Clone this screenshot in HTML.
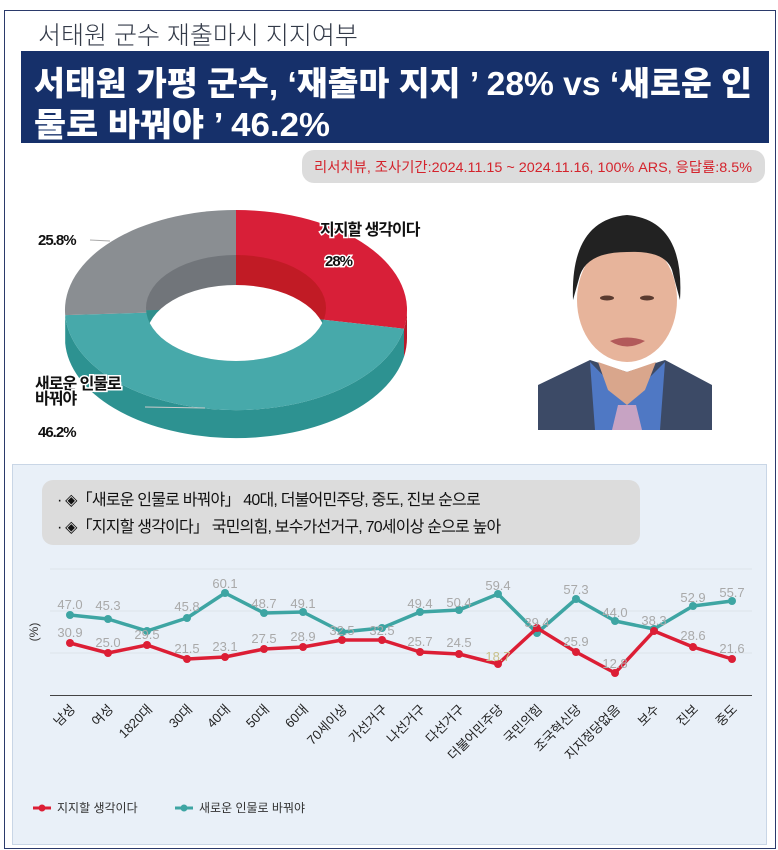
<!DOCTYPE html>
<html><head><meta charset="utf-8"><style>
body{margin:0;width:778px;height:850px;background:#fff;overflow:hidden}
svg{display:block}
text{font-family:"Liberation Sans","Noto Sans CJK KR",sans-serif}
</style></head><body>
<svg width="778" height="850" viewBox="0 0 778 850">
<defs>
<clipPath id="hole"><ellipse cx="236" cy="308" rx="90" ry="53"/></clipPath>
</defs>
<rect x="4.5" y="10.5" width="771" height="838" fill="#fff" stroke="#2b3a6b" stroke-width="1"/>
<text x="38" y="44" font-size="25" fill="#333a48" font-family="'Noto Sans CJK KR',sans-serif" font-weight="300">서태원 군수 재출마시 지지여부</text>
<rect x="21" y="51" width="748" height="92" fill="#16306a"/>
<g font-size="33" font-weight="900" fill="#fff" font-family="'Noto Sans CJK KR',sans-serif">
<text x="34" y="95" textLength="718" lengthAdjust="spacingAndGlyphs">서태원 가평 군수, ‘재출마 지지 ’ 28% vs ‘새로운 인</text>
<text x="34" y="136" textLength="296" lengthAdjust="spacingAndGlyphs">물로 바꿔야 ’ 46.2%</text>
</g>
<rect x="302" y="150" width="463" height="33" rx="12" fill="#dcdcdc"/>
<text x="314" y="172" font-size="14" fill="#d4232c" textLength="438" lengthAdjust="spacingAndGlyphs">리서치뷰, 조사기간:2024.11.15 ~ 2024.11.16, 100% ARS, 응답률:8.5%</text>

<!-- donut -->
<path d="M404,328.7 A171,100 0 0 1 65.2,315.1 L65.2,343.1 A171,100 0 0 0 404,356.7 Z" fill="#2d9291"/>
<path d="M407,310 A171,100 0 0 1 404,328.7 L404,356.7 A171,100 0 0 0 407,338 Z" fill="#b81a2a"/>
<path d="M236,310 L236,210 A171,100 0 0 1 404,328.7 Z" fill="#d81f38"/>
<path d="M236,310 L404,328.7 A171,100 0 0 1 65.2,315.1 Z" fill="#47a9aa"/>
<path d="M236,310 L65.2,315.1 A171,100 0 0 1 236,210 Z" fill="#8a8e92"/>
<g clip-path="url(#hole)">
<path d="M236,308 L236,200 L400,200 L400,330 Z" fill="#c11b25"/>
<path d="M236,308 L236,200 L80,200 L80,312 Z" fill="#71757a"/>
<path d="M236,308 L400,330 L400,420 L80,420 L80,312 Z" fill="#2f8f8c"/>
<ellipse cx="236" cy="338" rx="90" ry="53" fill="#fff"/>
</g>
<line x1="90" y1="240" x2="110" y2="241" stroke="#aaa"/>
<line x1="145" y1="407" x2="205" y2="408" stroke="#ccc"/>
<g font-size="15" font-weight="bold" fill="#111" stroke="#fff" stroke-width="3" paint-order="stroke" letter-spacing="-1" font-family="'Noto Sans CJK KR',sans-serif">
<text x="38" y="245">25.8%</text>
<text x="320" y="235" font-size="16">지지할 생각이다</text>
<text x="325" y="266">28%</text>
<text x="35" y="389" font-size="16">새로운 인물로</text>
<text x="35" y="404" font-size="16">바꿔야</text>
<text x="38" y="437">46.2%</text>
</g>

<!-- photo -->
<rect x="538" y="207" width="175" height="223" fill="#fff"/>
<path d="M538,385 L590,360 L627,372 L665,360 L712,385 L712,430 L538,430 Z" fill="#3c4a66"/>
<path d="M590,362 L627,400 L665,362 L660,430 L595,430 Z" fill="#4f78c4"/>
<path d="M618,405 L636,405 L642,430 L612,430 Z" fill="#c7a3c3"/>
<path d="M598,362 L627,372 L656,362 L645,390 L627,405 L608,390 Z" fill="#d9a68c"/>
<ellipse cx="627" cy="300" rx="50" ry="62" fill="#e7b49b"/>
<path d="M573,300 Q570,220 627,215 Q685,220 680,300 L672,270 Q665,250 627,252 Q588,252 580,275 Z" fill="#222"/>
<ellipse cx="607" cy="298" rx="7" ry="2.5" fill="#5a3b30"/>
<ellipse cx="647" cy="298" rx="7" ry="2.5" fill="#5a3b30"/>
<path d="M610,341 Q627,334 645,341 Q627,352 610,341 Z" fill="#b25a5a"/>

<!-- chart box -->
<rect x="12.5" y="464.5" width="754" height="380" fill="#e9f0f8" stroke="#c9d6e6"/>
<rect x="42" y="480" width="598" height="65" rx="11" fill="#dcdcdc"/>
<g font-size="16" fill="#111" letter-spacing="-0.8">
<text x="57" y="505">· ◈「새로운 인물로 바꿔야」 40대, 더불어민주당, 중도, 진보 순으로</text>
<text x="57" y="532">· ◈「지지할 생각이다」 국민의힘, 보수가선거구, 70세이상 순으로 높아</text>
</g>
<g stroke="#dde3ea" stroke-width="1">
<line x1="50" y1="569" x2="752" y2="569"/><line x1="50" y1="611" x2="752" y2="611"/><line x1="50" y1="653" x2="752" y2="653"/>
</g>
<line x1="50" y1="695.5" x2="752" y2="695.5" stroke="#444" stroke-width="1"/>
<text transform="translate(38,632) rotate(-90)" font-size="12" fill="#333" text-anchor="middle">(%)</text>

<polyline fill="none" stroke="#3ea5a3" stroke-width="3.5" stroke-linejoin="round" points="70,615 108,619 147,631 187,618 225,593 264,613 303,612 342,632 382,628 420,612 459,610 498,594 537,633 576,599 615,621 654,629 693,606 732,601"/>
<g fill="#3ea5a3"><circle cx="70" cy="615" r="4"/><circle cx="108" cy="619" r="4"/><circle cx="147" cy="631" r="4"/><circle cx="187" cy="618" r="4"/><circle cx="225" cy="593" r="4"/><circle cx="264" cy="613" r="4"/><circle cx="303" cy="612" r="4"/><circle cx="342" cy="632" r="4"/><circle cx="382" cy="628" r="4"/><circle cx="420" cy="612" r="4"/><circle cx="459" cy="610" r="4"/><circle cx="498" cy="594" r="4"/><circle cx="537" cy="633" r="4"/><circle cx="576" cy="599" r="4"/><circle cx="615" cy="621" r="4"/><circle cx="654" cy="629" r="4"/><circle cx="693" cy="606" r="4"/><circle cx="732" cy="601" r="4"/></g>
<polyline fill="none" stroke="#dc1e35" stroke-width="3.5" stroke-linejoin="round" points="70,643 108,653 147,645 187,659 225,657 264,649 303,647 342,640 382,640 420,652 459,654 498,664 537,628 576,652 615,673 654,631 693,647 732,659"/>
<g fill="#dc1e35"><circle cx="70" cy="643" r="4"/><circle cx="108" cy="653" r="4"/><circle cx="147" cy="645" r="4"/><circle cx="187" cy="659" r="4"/><circle cx="225" cy="657" r="4"/><circle cx="264" cy="649" r="4"/><circle cx="303" cy="647" r="4"/><circle cx="342" cy="640" r="4"/><circle cx="382" cy="640" r="4"/><circle cx="420" cy="652" r="4"/><circle cx="459" cy="654" r="4"/><circle cx="498" cy="664" r="4"/><circle cx="537" cy="628" r="4"/><circle cx="576" cy="652" r="4"/><circle cx="615" cy="673" r="4"/><circle cx="654" cy="631" r="4"/><circle cx="693" cy="647" r="4"/><circle cx="732" cy="659" r="4"/></g>

<g font-size="13" fill="#a9a9a9" text-anchor="middle">
<text x="70" y="609">47.0</text><text x="108" y="610">45.3</text><text x="187" y="611">45.8</text><text x="225" y="588">60.1</text><text x="264" y="608">48.7</text><text x="303" y="608">49.1</text><text x="342" y="635">32.5</text><text x="382" y="635">32.5</text><text x="420" y="608">49.4</text><text x="459" y="607">50.4</text><text x="498" y="590">59.4</text><text x="537" y="627">39.4</text><text x="576" y="594">57.3</text><text x="615" y="617">44.0</text><text x="654" y="625">38.3</text><text x="693" y="602">52.9</text><text x="732" y="597">55.7</text>
<text x="70" y="637">30.9</text><text x="108" y="647">25.0</text><text x="147" y="639">29.5</text><text x="187" y="653">21.5</text><text x="225" y="651">23.1</text><text x="264" y="643">27.5</text><text x="303" y="641">28.9</text><text x="420" y="646">25.7</text><text x="459" y="647">24.5</text><text x="498" y="661" fill="#c8c08a">18.7</text><text x="576" y="646">25.9</text><text x="615" y="668">12.8</text><text x="693" y="640">28.6</text><text x="732" y="653">21.6</text>
</g>

<g font-size="13" fill="#222" text-anchor="end">
<text transform="translate(76,710) rotate(-45)">남성</text>
<text transform="translate(114,710) rotate(-45)">여성</text>
<text transform="translate(153,710) rotate(-45)">1820대</text>
<text transform="translate(193,710) rotate(-45)">30대</text>
<text transform="translate(231,710) rotate(-45)">40대</text>
<text transform="translate(270,710) rotate(-45)">50대</text>
<text transform="translate(309,710) rotate(-45)">60대</text>
<text transform="translate(348,710) rotate(-45)">70세이상</text>
<text transform="translate(388,710) rotate(-45)">가선거구</text>
<text transform="translate(426,710) rotate(-45)">나선거구</text>
<text transform="translate(465,710) rotate(-45)">다선거구</text>
<text transform="translate(504,710) rotate(-45)">더불어민주당</text>
<text transform="translate(543,710) rotate(-45)">국민의힘</text>
<text transform="translate(582,710) rotate(-45)">조국혁신당</text>
<text transform="translate(621,710) rotate(-45)">지지정당없음</text>
<text transform="translate(660,710) rotate(-45)">보수</text>
<text transform="translate(699,710) rotate(-45)">진보</text>
<text transform="translate(738,710) rotate(-45)">중도</text>
</g>

<line x1="33" y1="808" x2="51" y2="808" stroke="#dc1e35" stroke-width="3"/><circle cx="42" cy="808" r="3.5" fill="#dc1e35"/>
<text x="57" y="812" font-size="12" fill="#333">지지할 생각이다</text>
<line x1="175" y1="808" x2="193" y2="808" stroke="#3ea5a3" stroke-width="3"/><circle cx="184" cy="808" r="3.5" fill="#3ea5a3"/>
<text x="199" y="812" font-size="12" fill="#333">새로운 인물로 바꿔야</text>
</svg>
</body></html>
